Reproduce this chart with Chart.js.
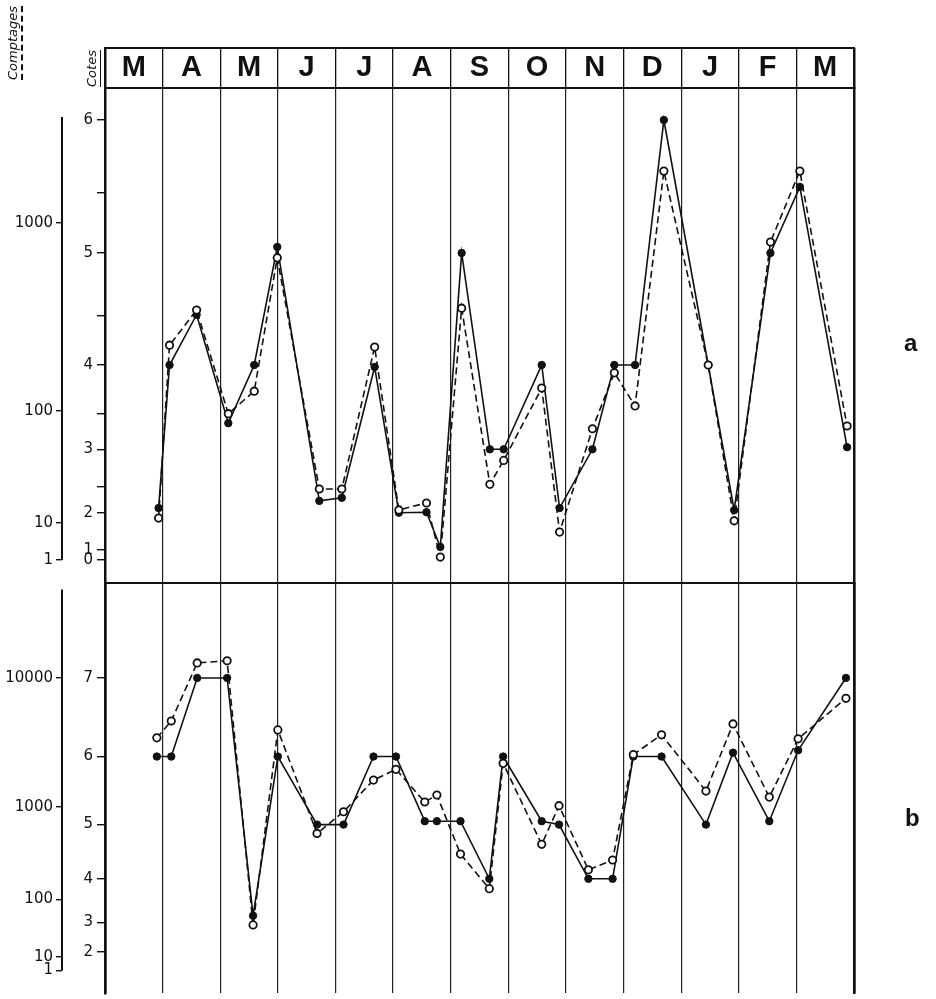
<!DOCTYPE html>
<html>
<head>
<meta charset="utf-8">
<script src="https://cdn.jsdelivr.net/npm/chart.js@4.4.1/dist/chart.umd.min.js"></script>
<style>
  html, body { margin: 0; padding: 0; background: #fff; }
  #wrap { position: relative; width: 936px; height: 999px; overflow: hidden; }
  canvas { position: absolute; left: 0; }
  #chartA { top: 0; }
  #chartB { top: 575px; }
  .vt { position: absolute; transform-origin: 0 0; transform: rotate(-90deg);
        font: italic 13px "DejaVu Sans", sans-serif; line-height: 15px; white-space: nowrap; color: #111; }
  .vt span { display: inline-block; padding-bottom: 1px; }
  .tag { position: absolute; font: bold 24px "Liberation Sans", sans-serif; color: #111; }
</style>
</head>
<body>
<div id="wrap">
  <canvas id="chartA" width="936" height="590"></canvas>
  <canvas id="chartB" width="936" height="424"></canvas>
  <div class="vt" style="left:5px; top:80px;"><span style="border-bottom: 2px dashed #111;">Comptages</span></div>
  <div class="vt" style="left:84px; top:87px;"><span style="border-bottom: 1.5px solid #111;">Cotes</span></div>
  <div class="tag" style="left:904px; top:329px;">a</div>
  <div class="tag" style="left:905px; top:804px;">b</div>
</div>
<script>
// mois, de mars à mars
const MONTHS = ['M', 'A', 'M', 'J', 'J', 'A', 'S', 'O', 'N', 'D', 'J', 'F', 'M'];

// position des relevés (en mois depuis début mars)
const X_A = [0.93, 1.12, 1.59, 2.14, 2.59, 2.99, 3.72, 4.11, 4.68, 5.10, 5.58, 5.82, 6.19,
             6.68, 6.92, 7.58, 7.89, 8.46, 8.84, 9.20, 9.70, 10.47, 10.92, 11.55, 12.06, 12.88];
const COTES_A = [2.09, 4.0, 4.51, 3.37, 4.0, 5.05, 2.23, 2.29, 3.98, 2.0, 2.01, 1.08, 5.0,
                 3.0, 3.0, 4.0, 2.09, 3.0, 4.0, 4.0, 6.0, 4.0, 2.05, 5.0, 5.54, 3.03];
const COMPT_A = [11, 223, 343, 94, 127, 650, 20, 20, 218, 13, 15, 1.2, 351,
                 22, 36, 132, 5.6, 69, 159, 106, 1880, 175, 10.4, 789, 1880, 73];

const X_B = [0.90, 1.15, 1.60, 2.12, 2.57, 3.0, 3.68, 4.14, 4.66, 5.05, 5.55, 5.76, 6.17,
             6.67, 6.91, 7.58, 7.88, 8.39, 8.81, 9.17, 9.66, 10.43, 10.90, 11.53, 12.03, 12.86];
const COTES_B = [6.0, 6.0, 7.0, 7.0, 3.15, 6.0, 5.0, 5.0, 6.0, 6.0, 5.05, 5.05, 5.05,
                 4.0, 6.0, 5.05, 5.0, 4.0, 4.0, 6.0, 6.0, 5.0, 6.05, 5.05, 6.08, 7.0];
const COMPT_B = [3420, 4620, 13000, 13500, 36, 3940, 516, 885, 1610, 1950, 1090, 1235, 309,
                 131, 2170, 394, 1020, 209, 267, 2540, 3610, 1325, 4380, 1190, 3360, 6920];

// graduations
const TICKS_A_COTES = [0, 1, 2, 2.5, 3, 3.5, 4, 4.5, 5, 5.5, 6];
const TICKS_A_COMPT = [1, 10, 100, 1000];
const TICKS_B_COTES = [2, 3, 4, 5, 6, 7];
const TICKS_B_COMPT = [1, 10, 100, 1000, 10000];

// étalonnage des axes (échelles dessinées à la main) : [valeur, hauteur relevée]
const CAL_A_COTES = [[-2.3, 583], [0, 560], [1, 550], [2, 512.7], [2.5, 487], [3, 449.3], [3.5, 414],
                     [4, 365], [4.5, 316], [5, 253], [5.5, 192.7], [6, 120], [6.22, 88]];
const CAL_A_COMPT = [[0.24, 583], [1, 560], [10, 522.7], [100, 410.7], [1000, 222.7], [5200, 88]];
const CAL_B_COTES = [[0.6, 999], [2, 957], [3, 927], [4, 883], [5, 828], [6, 759], [7, 679.3], [8.21, 583]];
const CAL_B_COMPT = [[0.023, 999], [1, 976], [10, 962], [100, 904], [1000, 810], [10000, 679], [54000, 583]];

// échelle linéaire par morceaux, pour reproduire les axes non réguliers
class PiecewiseScale extends Chart.LinearScale {
  static id = 'piecewise';
  static defaults = {};

  determineDataLimits() {
    const k = this.options.knots;
    this.min = k[0][0];
    this.max = k[k.length - 1][0];
  }
  buildTicks() {
    return this.options.tickValues.map(v => ({ value: v }));
  }
  tr(v) {
    return this.options.logKnots ? Math.log10(v) : v;
  }
  getPixelForValue(value) {
    if (value === null || value === undefined) return NaN;
    const k = this.options.knots;
    const t = this.tr(value);
    let i = 0;
    while (i < k.length - 2 && t > this.tr(k[i + 1][0])) i++;
    const t0 = this.tr(k[i][0]), t1 = this.tr(k[i + 1][0]);
    const ref = k[i][1] + (t - t0) / (t1 - t0) * (k[i + 1][1] - k[i][1]);
    const bot = k[0][1], top = k[k.length - 1][1];
    return this.getPixelForDecimal((bot - ref) / (bot - top));
  }
  getValueForPixel(pixel) {
    const k = this.options.knots;
    const bot = k[0][1], top = k[k.length - 1][1];
    const ref = bot - this.getDecimalForPixel(pixel) * (bot - top);
    let i = 0;
    while (i < k.length - 2 && ref < k[i + 1][1]) i++;
    const f = (ref - k[i][1]) / (k[i + 1][1] - k[i][1]);
    const t = this.tr(k[i][0]) + f * (this.tr(k[i + 1][0]) - this.tr(k[i][0]));
    return this.options.logKnots ? Math.pow(10, t) : t;
  }
  drawBorder() {
    const r = this.options.lineRange;
    if (!r) return super.drawBorder();
    const ctx = this.ctx;
    ctx.save();
    ctx.strokeStyle = '#111';
    ctx.lineWidth = 2;
    ctx.beginPath();
    ctx.moveTo(this.right, this.getPixelForValue(r[1]));
    ctx.lineTo(this.right, this.getPixelForValue(r[0]));
    ctx.stroke();
    ctx.restore();
  }
}
Chart.register(PiecewiseScale);

Chart.defaults.font.family = '"DejaVu Sans", sans-serif';
Chart.defaults.color = '#111';

const INK = '#111';

function fixSize(w, h) {
  return s => {
    if (w !== null) s.width = w;
    if (h !== null) s.height = h;
    s.paddingTop = s.paddingBottom = s.paddingLeft = s.paddingRight = 0;
  };
}

function lineSet(xs, ys, axis, dashed) {
  return {
    data: xs.map((x, i) => ({ x: x, y: ys[i] })),
    yAxisID: axis,
    borderColor: INK,
    borderWidth: 1.6,
    borderDash: dashed ? [7, 4] : [],
    pointRadius: 3.7,
    pointBackgroundColor: dashed ? '#fff' : INK,
    pointBorderColor: INK,
    pointBorderWidth: dashed ? 1.8 : 1,
    tension: 0
  };
}

function leftAxes(calCotes, ticksCotes, calCompt, ticksCompt, comptLine) {
  return {
    cotes: {
      type: 'piecewise', position: 'left', weight: 0,
      knots: calCotes, tickValues: ticksCotes,
      ticks: { autoSkip: false, padding: 4, font: { size: 15 },
               callback: v => Number.isInteger(v) ? String(v) : '' },
      grid: { drawOnChartArea: false, tickLength: 8, color: INK, lineWidth: 1.4 },
      border: { display: true, width: 2.5, color: INK },
      afterFit: fixSize(43, null)
    },
    compt: {
      type: 'piecewise', position: 'left', weight: 1, logKnots: true,
      knots: calCompt, tickValues: ticksCompt, lineRange: comptLine,
      ticks: { autoSkip: false, padding: 3, font: { size: 15 }, callback: v => String(v) },
      grid: { drawOnChartArea: false, tickLength: 6, color: INK, lineWidth: 1.4 },
      afterFit: fixSize(62, null)
    },
    edge: {
      type: 'linear', position: 'right',
      ticks: { display: false }, grid: { display: false },
      border: { display: true, width: 2.5, color: INK },
      afterFit: fixSize(0, null)
    }
  };
}

const isEdge = c => c.tick && (c.tick.value === 0 || c.tick.value === 13);

// panneau a
const scalesA = Object.assign({
  x: {
    type: 'linear', position: 'bottom', min: 0, max: 13,
    ticks: { stepSize: 1, display: false },
    grid: { color: '#222', lineWidth: 1.2, drawTicks: false },
    border: { display: true, width: 2, color: INK },
    afterFit: fixSize(null, 0)
  },
  months: {
    type: 'linear', position: 'top', weight: 0, min: 0, max: 13,
    ticks: { stepSize: 1, autoSkip: false, maxRotation: 0, labelOffset: 28.8, padding: -37,
             font: { family: '"Liberation Sans", sans-serif', weight: 'bold', size: 29 },
             callback: v => MONTHS[v] || '' },
    grid: { drawOnChartArea: false, tickLength: 40, color: INK, lineWidth: c => isEdge(c) ? 2.5 : 1.3 },
    border: { display: true, width: 2, color: INK },
    afterFit: fixSize(null, 40)
  },
  frame: {
    type: 'linear', position: 'top', weight: 1, min: 0, max: 13,
    ticks: { display: false }, grid: { display: false },
    border: { display: true, width: 2, color: INK },
    afterFit: fixSize(null, 0)
  }
}, leftAxes(CAL_A_COTES, TICKS_A_COTES, CAL_A_COMPT, TICKS_A_COMPT, [1, 3650]));

new Chart(document.getElementById('chartA'), {
  type: 'line',
  data: {
    datasets: [
      lineSet(X_A, COMPT_A, 'compt', true),
      lineSet(X_A, COTES_A, 'cotes', false)
    ]
  },
  options: {
    responsive: false, animation: false, events: [],
    layout: { padding: { top: 48, left: 0, right: 82, bottom: 7 } },
    plugins: { legend: { display: false }, tooltip: { enabled: false } },
    scales: scalesA
  }
});

// panneau b
const scalesB = Object.assign({
  x: {
    type: 'linear', position: 'bottom', min: 0, max: 13,
    ticks: { stepSize: 1, display: false },
    grid: { color: '#222', lineWidth: c => isEdge(c) ? 2.5 : 1.2, drawTicks: false },
    border: { display: false },
    afterFit: fixSize(null, 0)
  },
  frame: {
    type: 'linear', position: 'top', min: 0, max: 13,
    ticks: { display: false }, grid: { display: false },
    border: { display: true, width: 2, color: INK },
    afterFit: fixSize(null, 0)
  }
}, leftAxes(CAL_B_COTES, TICKS_B_COTES, CAL_B_COMPT, TICKS_B_COMPT, [1, 48000]));

new Chart(document.getElementById('chartB'), {
  type: 'line',
  data: {
    datasets: [
      lineSet(X_B, COMPT_B, 'compt', true),
      lineSet(X_B, COTES_B, 'cotes', false)
    ]
  },
  options: {
    responsive: false, animation: false, events: [],
    layout: { padding: { top: 8, left: 0, right: 82, bottom: 0 } },
    plugins: { legend: { display: false }, tooltip: { enabled: false } },
    scales: scalesB
  }
});
</script>
</body>
</html>
